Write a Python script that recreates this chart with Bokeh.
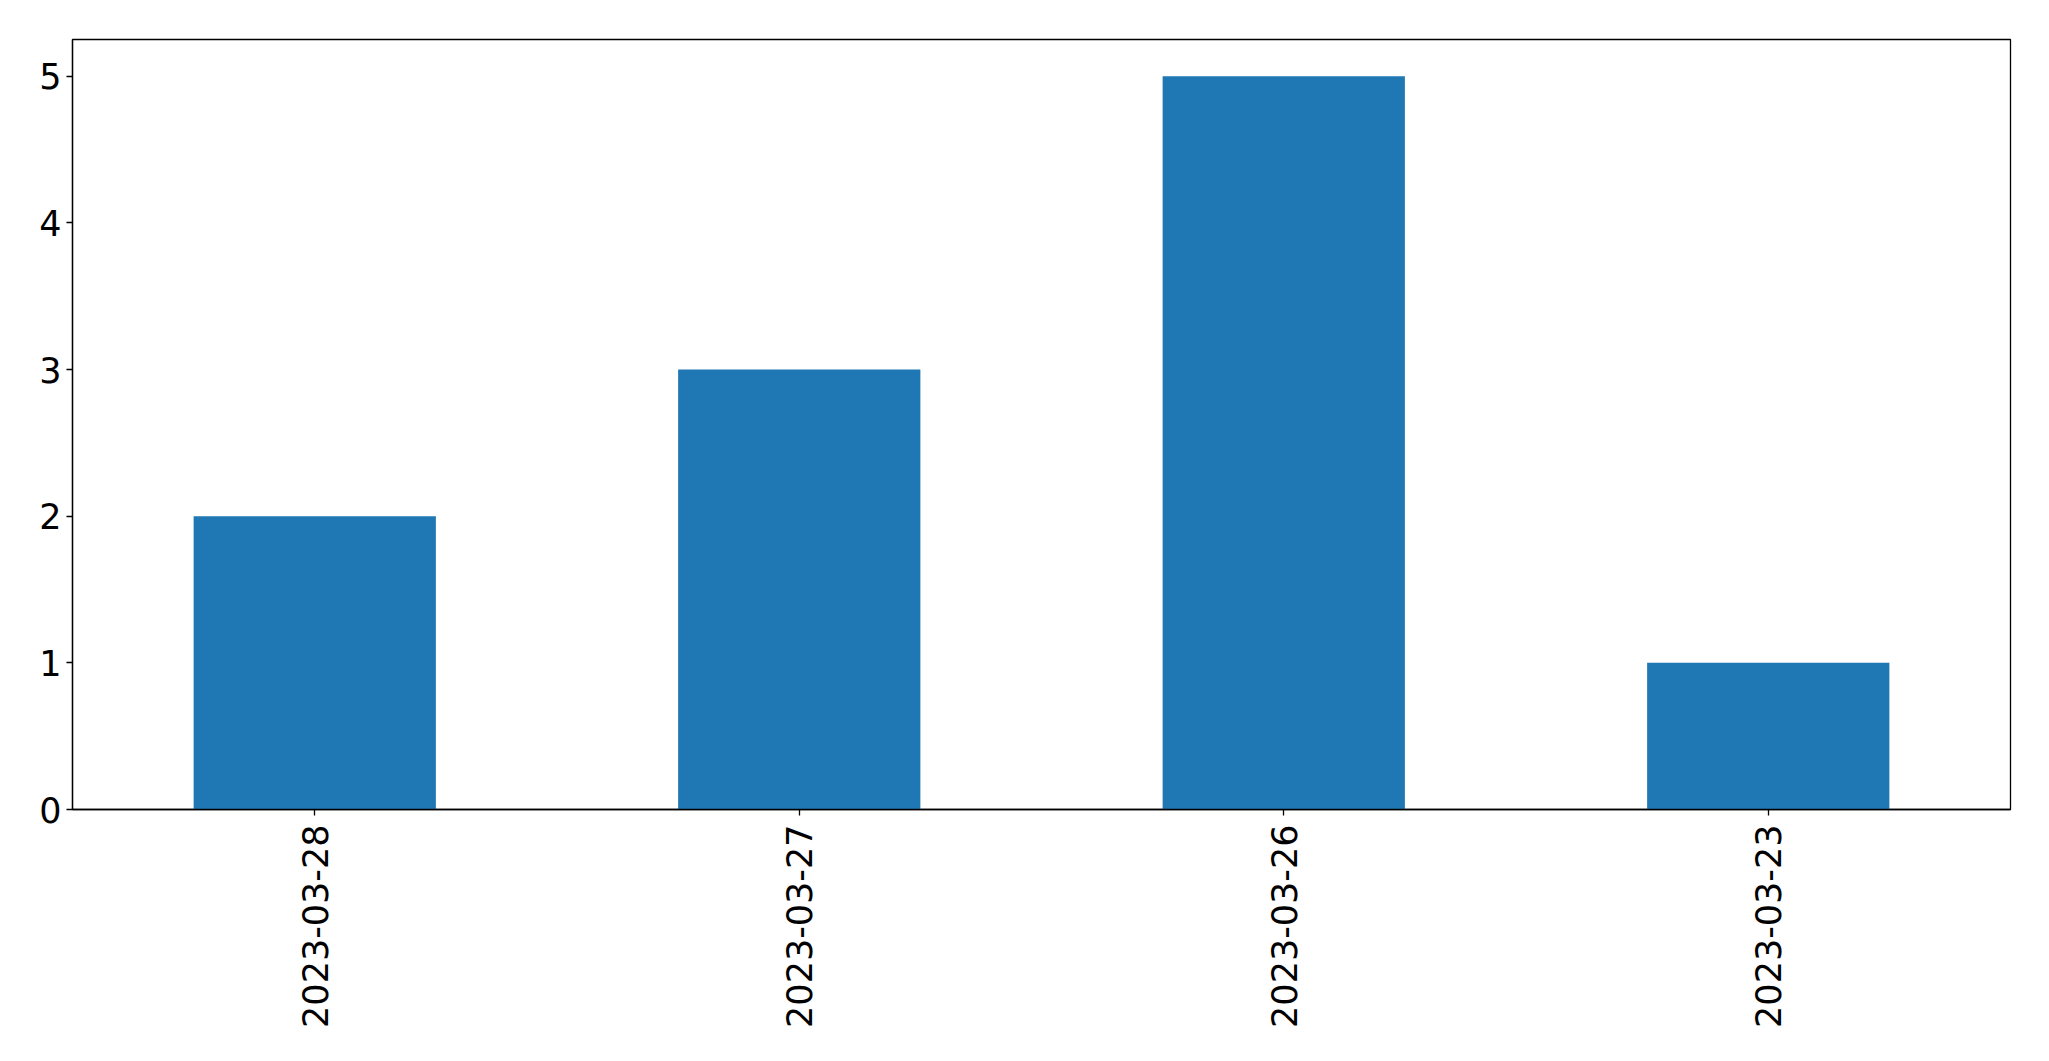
import math
from bokeh.plotting import figure
from bokeh.models import ColumnDataSource, FactorRange, Range1d, FixedTicker
from bokeh.embed import file_html
from bokeh.resources import INLINE

dates = ["2023-03-28", "2023-03-27", "2023-03-26", "2023-03-23"]
counts = [2, 3, 5, 1]
y_ticks = [0, 1, 2, 3, 4, 5]

src = ColumnDataSource(data=dict(date=dates, count=counts))

p = figure(width=2040, height=1053, x_range=FactorRange(*dates, range_padding=0),
           y_range=Range1d(0, 5.25), output_backend="svg", toolbar_location=None,
           min_border_left=72, min_border_right=30, min_border_top=39, min_border_bottom=244)

p.vbar(x="date", top="count", width=0.5, source=src, color="#1f77b4", line_color=None)

p.xgrid.visible = False
p.ygrid.visible = False
p.outline_line_color = "black"
p.outline_line_alpha = 1
p.outline_line_width = 1.3

for ax in (p.xaxis[0], p.yaxis[0]):
    ax.axis_line_color = "black"
    ax.axis_line_width = 1.3
    ax.major_tick_line_color = "black"
    ax.major_tick_line_width = 1.3
    ax.major_tick_out = 6
    ax.major_tick_in = 0
    ax.minor_tick_line_color = None
    ax.major_label_text_font = "DejaVu Sans"
    ax.major_label_text_font_size = "35px"
    ax.major_label_text_color = "black"

p.yaxis.ticker = FixedTicker(ticks=y_ticks)
p.yaxis.major_label_standoff = 5
p.xaxis.major_label_orientation = math.pi / 2
p.xaxis.major_label_standoff = 9

open("out.html", "w").write(file_html(p, INLINE))
